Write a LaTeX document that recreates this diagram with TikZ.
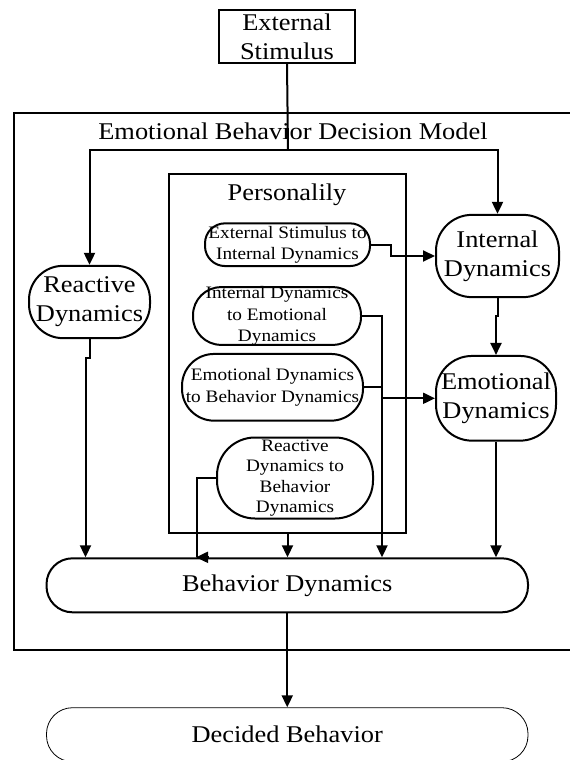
\documentclass[tikz,border=0pt]{standalone}
\usepackage{fontspec}
\setmainfont[FakeStretch=1.1]{Liberation Serif}
\usetikzlibrary{arrows.meta}
\begin{document}
\begin{tikzpicture}[x=1pt,y=-1pt,
  ln/.style={line width=2pt, line join=miter},
  arr/.style={ln, -{Triangle[length=12pt,width=11pt]}},
  rbox/.style={draw, line width=2pt, rounded corners=#1, inner sep=0pt},
  sbox/.style={draw, line width=2pt, inner sep=0pt},
  big/.style={font=\fontsize{24}{29}\selectfont, align=center, inner sep=0pt},
  small/.style={font=\fontsize{17.5}{21.5}\selectfont, align=center, inner sep=0pt}]
\useasboundingbox (0,0) rectangle (570,760);
\clip (0,0) rectangle (570,760);
\fill[white] (0,0) rectangle (570,760);

% outer model box
\node[sbox, minimum width=586.2pt, minimum height=536.7pt] (outer) at (306.9,381.65) {};
\node[big] (title) at (293,131.7) {Emotional Behavior Decision Model};

% external stimulus
\node[sbox, minimum width=136pt, minimum height=53.3pt] (es) at (287,36.35) {};
\node[big] (es-t) at (287,36.35) {External\\Stimulus};

% personality box
\node[sbox, minimum width=237pt, minimum height=358.7pt] (pers) at (287.5,353.35) {};
\node[big] (pers-t) at (287,195) {Personalily};

% inner nodes
\node[rbox=20pt, minimum width=165pt, minimum height=42.7pt] (e2i) at (287.5,244.7) {};
\node[small] (e2i-t) at (287.5,244.7) {External Stimulus to\\Internal Dynamics};
\node[rbox=28pt, minimum width=168pt, minimum height=57.7pt] (i2e) at (277,316) {};
\node[small] (i2e-t) at (277,316) {Internal Dynamics\\to Emotional\\Dynamics};
\node[rbox=32pt, minimum width=181pt, minimum height=66.7pt] (e2b) at (272.5,387.3) {};
\node[small] (e2b-t) at (272.5,387.3) {Emotional Dynamics\\to Behavior Dynamics};
\node[rbox=38pt, minimum width=156pt, minimum height=81pt] (r2b) at (295,478) {};
\node[small, font=\fontsize{17.5}{20.5}\selectfont] (r2b-t) at (295,478) {Reactive\\Dynamics to\\Behavior\\Dynamics};

% dynamics nodes
\node[rbox=36pt, minimum width=123pt, minimum height=82.3pt] (id) at (497.5,256) {};
\node[big] (id-t) at (497.5,256) {Internal\\Dynamics};
\node[rbox=34pt, minimum width=121pt, minimum height=72.3pt] (rd) at (89.5,302) {};
\node[big] (rd-t) at (89.5,302) {Reactive\\Dynamics};
\node[rbox=36pt, minimum width=120pt, minimum height=84.7pt] (ed) at (496,398.3) {};
\node[big] (ed-t) at (496,398.3) {Emotional\\Dynamics};
\node[rbox=26pt, minimum width=481.5pt, minimum height=54pt] (bd) at (287.25,585.3) {};
\node[big] (bd-t) at (287.25,585.3) {Behavior Dynamics};
\node[draw, line width=0.8pt, rounded corners=26pt, inner sep=0pt, minimum width=481.5pt, minimum height=54pt] (db) at (287.25,734.7) {};
\node[big] (db-t) at (287.25,734.7) {Decided Behavior};

% helper coordinates
\coordinate (sp) at (288,150);
\coordinate (c1) at (382,0);
\coordinate (c2) at (197,0);
\coordinate (c2a) at (196,0);
\coordinate (c2b) at (208,0);
\coordinate (c3) at (85.5,0);

% connectors
\draw[ln] (es.south) -- (sp);
\draw[arr] (sp) -| (rd.north);
\draw[arr] (sp) -| (id.north);
\draw[arr] (e2i.east) -- ++(20,0) |- (id.west);
\draw[arr] (id.south) -- ++(0,18) -| (ed.north);
\draw[arr] (i2e.east) -| (c1 |- bd.north);
\draw[arr] (e2b.east) -| (c1 |- ed.west) -- (ed.west);
\draw[ln] (r2b.west) -| (c2 |- bd.north);
\draw[arr] (c2b |- bd.north) -- (c2a |- bd.north);
\draw[arr] (pers.south) -- (pers.south |- bd.north);
\draw[arr] (ed.south) -- (ed.south |- bd.north);
\draw[arr] (rd.south) -- ++(0,18.4) -| (c3 |- bd.north);
\draw[arr] (bd.south) -- (db.north);
\end{tikzpicture}
\end{document}
